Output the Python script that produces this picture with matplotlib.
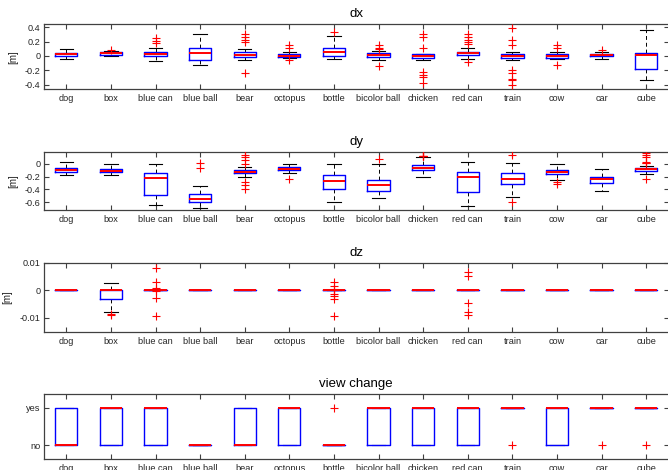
import numpy as np
import matplotlib.pyplot as plt

plt.rcParams['font.family'] = ['Liberation Sans', 'DejaVu Sans']

objects = ["dog", "box", "blue can", "blue ball", "bear", "octopus", "bottle",
           "bicolor ball", "chicken", "red can", "train", "cow", "car", "cube"]

# dx [m]
dx_med = [0.023, 0.037, 0.032, 0.042, 0.010, 0.000, 0.052, 0.018, 0.000, 0.046, -0.005, 0.000, 0.012, 0.018]
dx_q1 = [-0.004, 0.014, 0.000, -0.060, -0.018, -0.010, 0.000, -0.010, -0.032, 0.010, -0.032, -0.023, 0.000, -0.186]
dx_q3 = [0.046, 0.050, 0.060, 0.116, 0.056, 0.024, 0.116, 0.042, 0.024, 0.060, 0.024, 0.028, 0.024, 0.037]
dx_lo = [-0.046, 0.000, -0.065, -0.125, -0.056, -0.032, -0.042, -0.060, -0.056, -0.046, -0.060, -0.042, -0.040, -0.340]
dx_hi = [0.093, 0.070, 0.116, 0.300, 0.100, 0.056, 0.275, 0.074, 0.030, 0.116, 0.052, 0.060, 0.050, 0.360]
dx_out = [[], [0.085], [0.25, 0.21, 0.185], [], [0.30, 0.26, 0.22, 0.19, -0.232],
          [0.15, 0.11, -0.06], [0.33], [0.15, 0.115, 0.09, -0.135],
          [0.30, 0.27, 0.11, -0.22, -0.26, -0.30, -0.38],
          [0.30, 0.26, 0.22, 0.19, 0.16, -0.088],
          [0.39, 0.22, 0.15, -0.20, -0.24, -0.32, -0.34, -0.40],
          [0.15, 0.11, -0.12], [0.085], []]

# dy [m]
dy_med = [-0.104, -0.110, -0.230, -0.553, -0.130, -0.083, -0.276, -0.340, -0.068, -0.200, -0.240, -0.125, -0.245, -0.089]
dy_q1 = [-0.136, -0.136, -0.485, -0.605, -0.140, -0.104, -0.400, -0.430, -0.104, -0.443, -0.320, -0.167, -0.300, -0.120]
dy_q3 = [-0.073, -0.089, -0.150, -0.470, -0.094, -0.047, -0.180, -0.250, -0.026, -0.130, -0.150, -0.094, -0.200, -0.068]
dy_lo = [-0.180, -0.180, -0.650, -0.690, -0.200, -0.150, -0.600, -0.540, -0.214, -0.660, -0.520, -0.260, -0.430, -0.160]
dy_hi = [0.026, 0.000, 0.000, -0.355, -0.057, 0.000, 0.000, 0.000, 0.100, 0.030, 0.016, 0.000, -0.078, -0.030]
dy_out = [[], [], [], [0.005, -0.063], [0.146, 0.10, 0.052, 0.0, -0.28, -0.33, -0.39],
          [-0.235], [], [0.083], [0.13, 0.125, 0.12, 0.115],
          [], [0.14, -0.60], [-0.287, -0.318], [],
          [0.17, 0.14, 0.11, 0.03, 0.015, 0.01, -0.245]]

# dz [m]
dz_med = [0.0] * 14
dz_q1 = [0.0, -0.0033, 0, 0, 0, 0, 0, 0, 0, 0, 0, 0, 0, 0]
dz_q3 = [0.0] * 14
dz_lo = [0.0, -0.0081, 0, 0, 0, 0, 0, 0, 0, 0, 0, 0, 0, 0]
dz_hi = [0.0, 0.0027, 0, 0, 0, 0, 0, 0, 0, 0, 0, 0, 0, 0]
dz_out = [[], [-0.0086, -0.0091],
          [0.0079, 0.0029, 0.0007, 0.0002, -0.0003, -0.0029, -0.0095],
          [], [], [],
          [0.0031, 0.0016, 0.0004, -0.0001, -0.0012, -0.0022, -0.0032, -0.0095],
          [], [], [0.0065, 0.0053, -0.0047, -0.0080, -0.0091],
          [], [], [], []]

# view change (0 = no, 1 = yes)
vc_med = [0, 1, 1, 0, 0, 1, 0, 1, 1, 1, 1, 1, 1, 1]
vc_q1 = [0, 0, 0, 0, 0, 0, 0, 0, 0, 0, 1, 0, 1, 1]
vc_q3 = [1, 1, 1, 0, 1, 1, 0, 1, 1, 1, 1, 1, 1, 1]
vc_out = [[], [], [], [], [], [], [1], [], [], [], [0], [], [0], [0]]


def make_stats(med, q1, q3, lo, hi, out):
    return [dict(med=m, q1=a, q3=b, whislo=l, whishi=h, fliers=f)
            for m, a, b, l, h, f in zip(med, q1, q3, lo, hi, out)]


panels = [
    ("dx", make_stats(dx_med, dx_q1, dx_q3, dx_lo, dx_hi, dx_out), (-0.46, 0.44), [-0.4, -0.2, 0, 0.2, 0.4], None),
    ("dy", make_stats(dy_med, dy_q1, dy_q3, dy_lo, dy_hi, dy_out), (-0.725, 0.19), [-0.6, -0.4, -0.2, 0], None),
    ("dz", make_stats(dz_med, dz_q1, dz_q3, dz_lo, dz_hi, dz_out), (-0.0152, 0.01), [-0.01, 0, 0.01], None),
    ("view change", make_stats(vc_med, vc_q1, vc_q3, vc_q1, vc_q3, vc_out), (-0.37, 1.36), [0, 1], ["no", "yes"]),
]

# axes boxes in pixels: top, bottom
W, H = 668, 470
rows = [(24.3, 89), (151.7, 210), (262.7, 332), (394, 459.3)]
left, right = 44, 668.5

fig = plt.figure(figsize=(W / 100, H / 100), dpi=100)
pos = np.arange(1, len(objects) + 1)
spine_col = '#404040'

for (title, stats, ylim, yt, ytl), (top, bot) in zip(panels, rows):
    ax = fig.add_axes([left / W, 1 - bot / H, (right - left) / W, (bot - top) / H])
    res = ax.bxp(stats, positions=pos, widths=0.5, capwidths=0.3, showfliers=True,
                 boxprops=dict(color='#0000ff', linewidth=1.0),
                 medianprops=dict(color='#ff0000', linewidth=1.0),
                 whiskerprops=dict(color='black', linewidth=0.7, linestyle=(0, (4, 3))),
                 capprops=dict(color='black', linewidth=0.8),
                 flierprops=dict(marker='+', markeredgecolor='#ff0000', markersize=6,
                                 markeredgewidth=0.8, linestyle='none'))
    for ln in res['whiskers'] + res['caps']:
        ln.set_zorder(2)
    for ln in res['boxes']:
        ln.set_zorder(3)
    for ln in res['medians']:
        ln.set_zorder(4)
        ln.set_linewidth(1.4)
    for ln in res['fliers']:
        ln.set_zorder(5)
    ax.set_xlim(0.5, len(objects) + 0.5)
    ax.set_ylim(*ylim)
    ax.set_xticks(pos)
    ax.set_xticklabels(objects)
    ax.set_yticks(yt)
    if ytl is not None:
        ax.set_yticklabels(ytl)
    else:
        ax.set_yticklabels([("%g" % v) for v in yt])
        ax.set_ylabel("[m]", fontsize=7, color='#262626', labelpad=5)
    ax.tick_params(direction='in', length=3.6, width=0.8, color=spine_col,
                   top=True, right=True, labelsize=6.6, labelcolor='#262626')
    ax.tick_params(axis='x', pad=3.5)
    ax.tick_params(axis='y', pad=2.5)
    for s in ax.spines.values():
        s.set_color(spine_col)
        s.set_linewidth(0.9)
    ax.set_title(title, fontsize=9.5, pad=5)

fig.savefig("out.png", dpi=100)
